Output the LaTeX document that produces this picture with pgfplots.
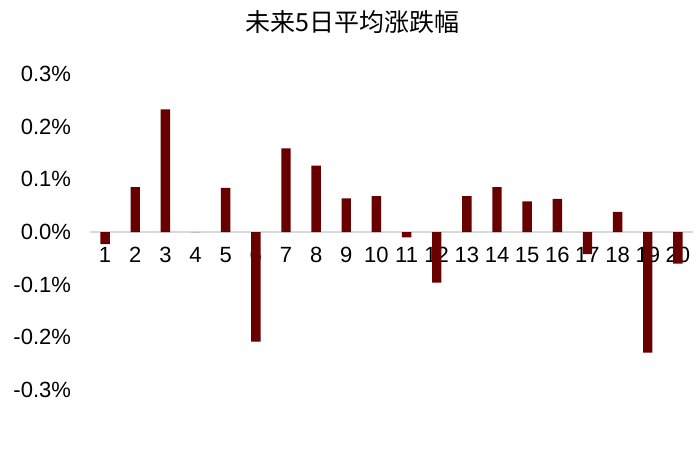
\documentclass[border=0pt]{standalone}
\usepackage{fontspec}
\setmainfont{Liberation Sans}
\newfontfamily\cjk{Noto Sans CJK SC}
\usepackage{pgfplots}
\pgfplotsset{compat=1.18}
\definecolor{barred}{RGB}{104,0,0}
\definecolor{zeroline}{RGB}{217,217,217}

\begin{document}
\begin{tikzpicture}
	\useasboundingbox (0,0) rectangle (350pt,224.5pt);
	\begin{axis}[
		at={(45pt,29.5pt)},
		anchor=south west,
		scale only axis,
		width=301.5pt,
		height=158pt,
		xmin=0.5, xmax=20.5,
		ymin=-0.3, ymax=0.3,
		axis x line=middle,
		axis y line=left,
		x axis line style={draw=zeroline, line width=0.8pt, -},
		y axis line style={draw=none},
		major tick length=0pt,
		xtick={1,...,20},
		ytick={-0.3,-0.2,...,0.3},
		font=\fontsize{11pt}{13pt}\selectfont,
		/pgf/number format/assume math mode=true,
		yticklabel={\pgfmathprintnumber[fixed,precision=1,zerofill]{\tick}\%},
		yticklabel style={xshift=-6pt},
		xticklabel style={yshift=-4pt},
		every axis title shift=0pt,
		title={\cjk 未来5日平均涨跌幅},
		title style={at={(rel axis cs:0.435,1.165)}, anchor=center, font=\fontsize{12.5pt}{15pt}\selectfont},
		clip=false,
	]
	\addplot[ybar, bar width=4.7pt, draw=none, fill=barred] coordinates {
		(1,-0.023)
		(2,0.085)
		(3,0.233)
		(4,0.0)
		(5,0.084)
		(6,-0.208)
		(7,0.159)
		(8,0.126)
		(9,0.064)
		(10,0.068)
		(11,-0.010)
		(12,-0.096)
		(13,0.068)
		(14,0.085)
		(15,0.058)
		(16,0.063)
		(17,-0.042)
		(18,0.038)
		(19,-0.229)
		(20,-0.060)
	};
	\end{axis}
\end{tikzpicture}
\end{document}
